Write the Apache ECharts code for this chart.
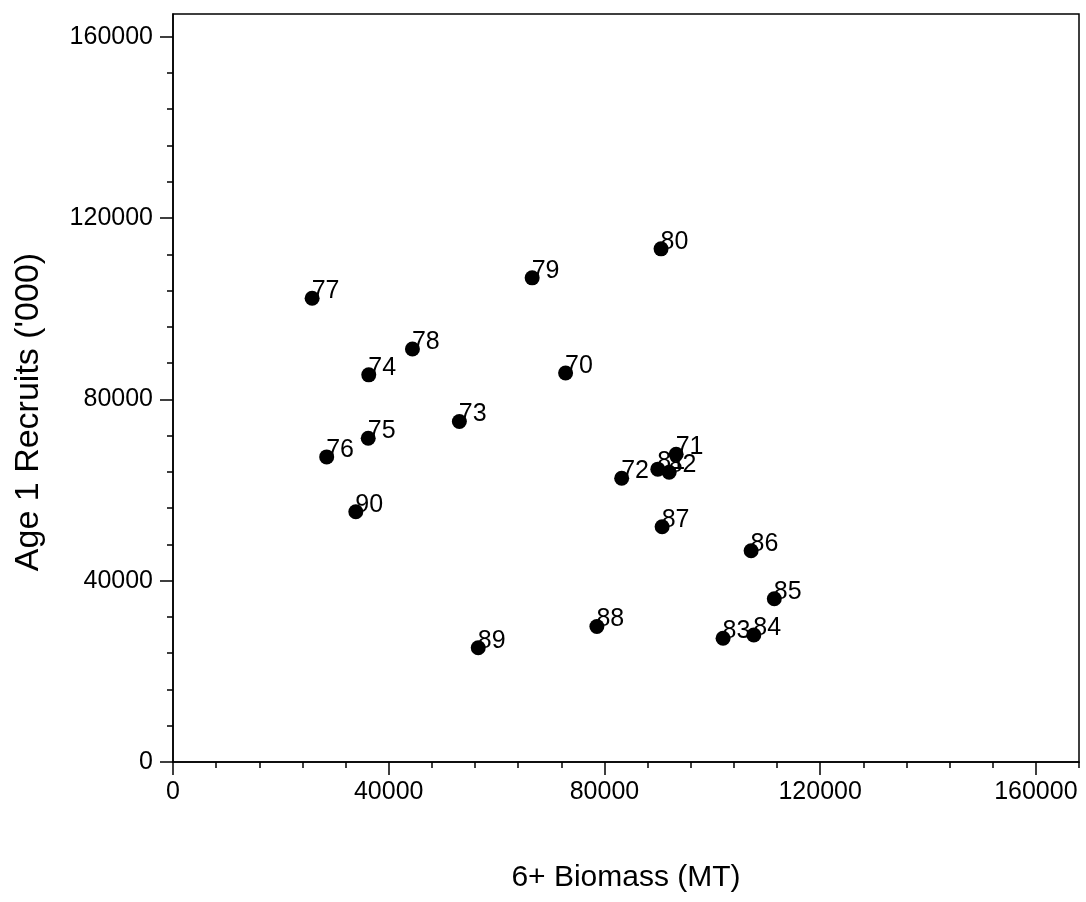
<!DOCTYPE html>
<html>
<head>
<meta charset="utf-8">
<script src="https://cdn.jsdelivr.net/npm/echarts@6.0.0/dist/echarts.min.js"></script>
<style>
  html, body { margin: 0; padding: 0; background: #fff; }
  #chart { width: 1086px; height: 902px; }
</style>
</head>
<body>
<div id="chart"></div>
<script>
// year labels (19xx) and values
var years = ["70","71","72","73","74","75","76","77","78","79","80","81","82","83","84","85","86","87","88","89","90"];
var biomass = [72800, 93300, 83200, 53100, 36300, 36200, 28500, 25800, 44400, 66600, 90500, 89900, 92000, 102000, 107700, 111500, 107200, 90700, 78600, 56600, 33900];
var recruits = [85800, 67900, 62600, 75100, 85400, 71400, 67300, 102300, 91100, 106800, 113200, 64600, 63900, 27300, 28000, 36000, 46600, 51900, 29900, 25200, 55200];

var major_ticks = [0, 40000, 80000, 120000, 160000];
var x_minor_ticks = [0, 8000, 16000, 24000, 32000, 40000, 48000, 56000, 64000, 72000, 80000, 88000, 96000, 104000, 112000, 120000, 128000, 136000, 144000, 152000, 160000, 168000];
var y_minor_ticks = [0, 8000, 16000, 24000, 32000, 40000, 48000, 56000, 64000, 72000, 80000, 88000, 96000, 104000, 112000, 120000, 128000, 136000, 144000, 152000, 160000];

var font = "'Liberation Sans', Arial, sans-serif";

var points = [];
for (var i = 0; i < years.length; i++) {
    points.push([biomass[i], recruits[i], years[i]]);
}

var chart = echarts.init(document.getElementById('chart'));

// main axis: line, long ticks, labels
function main_axis(name, extra) {
    var ax = {
        type: 'value',
        min: 0,
        name: name,
        nameLocation: 'middle',
        splitLine: { show: false },
        axisLine: { show: true, lineStyle: { color: '#000', width: 1.5 } },
        axisTick: { show: true, inside: false, length: 13, customValues: major_ticks,
                    lineStyle: { color: '#000', width: 1.5 } },
        axisLabel: { show: true, customValues: major_ticks, color: '#000',
                     fontFamily: font, fontSize: 25,
                     formatter: function (v) { return String(v); } }
    };
    for (var k in extra) ax[k] = extra[k];
    return ax;
}
// minor axis: short ticks only
function minor_axis(pos, max, ticks) {
    return {
        type: 'value',
        position: pos,
        min: 0,
        max: max,
        splitLine: { show: false },
        axisLine: { show: false },
        axisLabel: { show: false },
        axisTick: { show: true, inside: false, length: 6, customValues: ticks,
                    lineStyle: { color: '#000', width: 1.5 } }
    };
}

var x_main = main_axis('6+ Biomass (MT)', {
    position: 'bottom',
    max: 168000,
    nameGap: 101,
    nameTextStyle: { color: '#000', fontFamily: font, fontSize: 30 }
});
x_main.axisLabel.margin = 18;

var y_main = main_axis("Age 1 Recruits ('000)", {
    position: 'left',
    max: 165000,
    nameGap: 127,
    nameTextStyle: { color: '#000', fontFamily: font, fontSize: 34, padding: [0, 48, 0, 0] }
});
y_main.axisLabel.margin = 20;

chart.setOption({
    backgroundColor: '#fff',
    animation: false,
    grid: {
        left: 173, right: 7, top: 14, bottom: 140,
        show: true, borderColor: '#000', borderWidth: 1.5,
        containLabel: false
    },
    xAxis: [x_main, minor_axis('bottom', 168000, x_minor_ticks)],
    yAxis: [y_main, minor_axis('left', 165000, y_minor_ticks)],
    series: [
        {
            // labels first, so the dots sit on top of them
            type: 'scatter',
            z: 2,
            data: points,
            symbolSize: 15,
            itemStyle: { color: 'rgba(0,0,0,0)', opacity: 1 },
            label: {
                show: true,
                position: [7, -12],
                formatter: function (p) { return p.value[2]; },
                color: '#000',
                opacity: 1,
                fontFamily: font,
                fontSize: 25
            }
        },
        {
            type: 'scatter',
            z: 3,
            data: points,
            symbolSize: 15,
            itemStyle: { color: '#000', opacity: 1 },
            label: { show: false }
        }
    ]
});
</script>
</body>
</html>
